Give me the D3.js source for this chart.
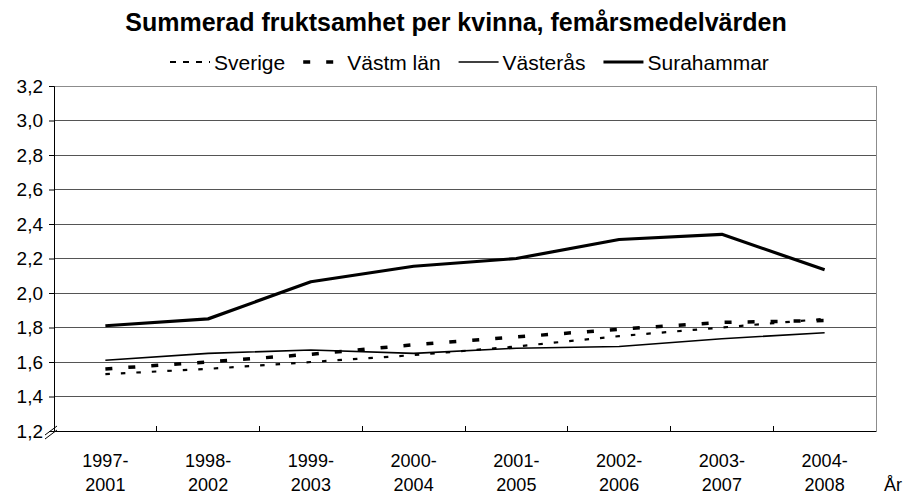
<!DOCTYPE html>
<html>
<head>
<meta charset="utf-8">
<script src="https://cdn.jsdelivr.net/npm/d3@7"></script>
<style>
  body { margin: 0; background: #fff; }
  text { font-family: "Liberation Sans", Arial, sans-serif; }
</style>
</head>
<body>
<svg id="chart" width="913" height="494"></svg>
<script>
const periods = [['1997-', '2001'], ['1998-', '2002'], ['1999-', '2003'], ['2000-', '2004'],
  ['2001-', '2005'], ['2002-', '2006'], ['2003-', '2007'], ['2004-', '2008']]
const sverige = [1.53, 1.56, 1.60, 1.64, 1.69, 1.75, 1.80, 1.85]
const vastmLan = [1.56, 1.60, 1.645, 1.70, 1.745, 1.79, 1.83, 1.84]
const vasteras = [1.61, 1.65, 1.67, 1.65, 1.68, 1.69, 1.735, 1.77]
const surahammar = [1.81, 1.85, 2.065, 2.155, 2.20, 2.31, 2.34, 2.135]
const yTicks = [1.2, 1.4, 1.6, 1.8, 2.0, 2.2, 2.4, 2.6, 2.8, 3.0, 3.2]

const series = [
  { name: 'Sverige', values: sverige, width: 2.2, dash: '4.5,11' },
  { name: 'Västm län', values: vastmLan, width: 3.5, dash: '7,16' },
  { name: 'Västerås', values: vasteras, width: 1.6, dash: null },
  { name: 'Surahammar', values: surahammar, width: 3.2, dash: null },
]

const svg = d3.select('#chart')
const m = { left: 54, right: 876, top: 86, bottom: 431 }
const axisFont = 18

const x = d3.scaleBand().domain(d3.range(periods.length)).range([m.left, m.right])
const y = d3.scaleLinear().domain([1.2, 3.2]).range([m.bottom, m.top])
const fmt = v => d3.format('.1f')(v).replace('.', ',')

// title
svg.append('text')
  .attr('x', 456).attr('y', 31)
  .attr('text-anchor', 'middle')
  .attr('font-size', 25).attr('font-weight', 'bold')
  .text('Summerad fruktsamhet per kvinna, femårsmedelvärden')

// grid
svg.append('g').selectAll('line')
  .data(yTicks.slice(1))
  .join('line')
  .attr('x1', m.left).attr('x2', m.right)
  .attr('y1', d => y(d)).attr('y2', d => y(d))
  .attr('stroke', d => d === 3.2 ? '#8c8c8c' : '#555')
  .attr('stroke-width', 1)
  .attr('shape-rendering', 'crispEdges')

// right border
svg.append('line')
  .attr('x1', m.right).attr('x2', m.right)
  .attr('y1', m.top).attr('y2', m.bottom)
  .attr('stroke', '#8c8c8c').attr('shape-rendering', 'crispEdges')

// y axis
const yAxis = svg.append('g')
  .attr('transform', `translate(${m.left},0)`)
  .call(d3.axisLeft(y).tickValues(yTicks).tickFormat(fmt).tickSize(5).tickPadding(6))
yAxis.select('.domain').attr('stroke', '#000')
yAxis.selectAll('.tick line').attr('stroke', '#000')
yAxis.selectAll('text').attr('font-size', 19).attr('fill', '#000')
  .attr('font-family', '"Liberation Sans", Arial, sans-serif')

// x axis
const xAxis = svg.append('g')
  .attr('transform', `translate(0,${m.bottom})`)
  .call(d3.axisBottom(x).tickSize(0).tickFormat(''))
xAxis.select('.domain').attr('stroke', '#000')
svg.append('g').selectAll('line')
  .data(d3.range(1, periods.length))
  .join('line')
  .attr('x1', i => x(i)).attr('x2', i => x(i))
  .attr('y1', m.bottom - 5).attr('y2', m.bottom)
  .attr('stroke', '#000').attr('shape-rendering', 'crispEdges')

const xLabels = svg.append('g').selectAll('text')
  .data(periods)
  .join('text')
  .attr('text-anchor', 'middle')
  .attr('font-size', axisFont)
  .attr('x', (d, i) => x(i) + x.bandwidth() / 2)
xLabels.append('tspan').attr('y', 467).text(d => d[0])
xLabels.append('tspan').attr('y', 491)
  .attr('x', (d, i) => x(i) + x.bandwidth() / 2).text(d => d[1])

svg.append('text')
  .attr('x', 884).attr('y', 491)
  .attr('font-size', axisFont)
  .text('År')

// axis break marker
const brk = svg.append('g').attr('stroke', '#000').attr('stroke-width', 1)
brk.append('line').attr('x1', m.left - 9).attr('y1', m.bottom + 4).attr('x2', m.left + 3).attr('y2', m.bottom - 5)
brk.append('line').attr('x1', m.left - 9).attr('y1', m.bottom + 8).attr('x2', m.left + 3).attr('y2', m.bottom - 1)

// lines
const line = d3.line()
  .x((d, i) => x(i) + x.bandwidth() / 2)
  .y(d => y(d))

svg.append('g').selectAll('path')
  .data(series)
  .join('path')
  .attr('fill', 'none')
  .attr('stroke', '#000')
  .attr('stroke-width', d => d.width)
  .attr('stroke-dasharray', d => d.dash)
  .attr('stroke-linejoin', 'round')
  .attr('d', d => line(d.values))

// legend, laid out left to right from measured text widths
const legend = svg.append('g').attr('transform', 'translate(0,62)')
let lx = 170
series.forEach((s) => {
  legend.append('line')
    .attr('x1', lx).attr('x2', lx + 40)
    .attr('y1', 0).attr('y2', 0)
    .attr('stroke', '#000')
    .attr('stroke-width', s.width)
    .attr('stroke-dasharray', s.name === 'Sverige' ? '6,7' : s.dash)
  const t = legend.append('text')
    .attr('x', lx + 44).attr('y', 7.5)
    .attr('font-size', 21)
    .text(s.name)
  lx += 44 + t.node().getComputedTextLength() + 18
})
</script>
</body>
</html>
